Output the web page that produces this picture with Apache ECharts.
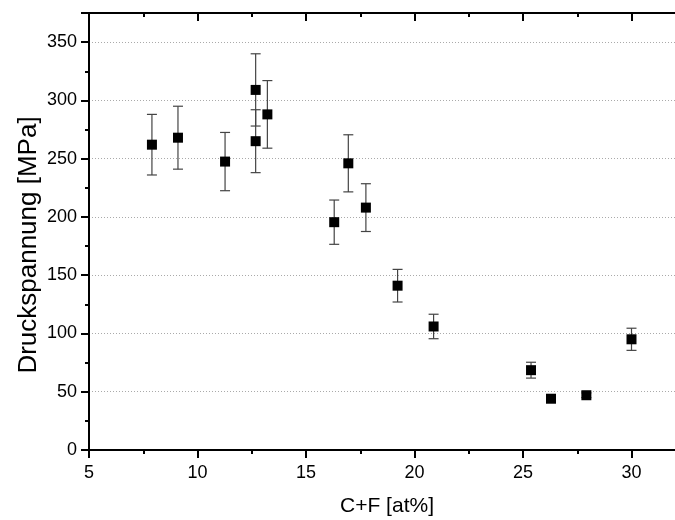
<!DOCTYPE html>
<html><head><meta charset="utf-8">
<script src="https://cdn.jsdelivr.net/npm/echarts@6/dist/echarts.min.js"></script>
<style>html,body{margin:0;padding:0;background:#fff}#c{width:675px;height:520px}</style>
</head><body><div id="c"></div>
<script>
var cf = [7.9, 9.1, 11.27, 12.68, 12.68, 13.22, 16.3, 16.95, 17.76, 19.22, 20.88, 25.37, 26.29, 27.92, 30.0];
var stress = [262, 268, 247.5, 309, 265, 288, 195.5, 246, 208, 141, 106, 68.5, 44, 47, 95];
var err = [26, 27, 25, 31, 27, 29, 19, 24.5, 20.5, 14, 10.5, 6.8, 2, 2, 9.5];
var xTitle = 'C+F [at%]';
var yTitle = 'Druckspannung [MPa]';

var pts = cf.map(function (x, i) { return [x, stress[i]]; });
var bars = cf.map(function (x, i) { return [x, stress[i] - err[i], stress[i] + err[i]]; });
var font = 'Liberation Sans, Arial, sans-serif';
var chart = echarts.init(document.getElementById('c'));
chart.setOption({
  animation: false,
  grid: { left: 89, right: -65, top: 13, bottom: 70, containLabel: false, outerBoundsMode: 'none' },
  graphic: [{
    type: 'text', x: 29, y: 245, rotation: Math.PI / 2,
    style: { text: yTitle, fontFamily: font, fontSize: 26, fill: '#000', textAlign: 'center', textVerticalAlign: 'middle' }
  }, {
    type: 'text', x: 387, y: 506,
    style: { text: xTitle, fontFamily: font, fontSize: 21, fill: '#000', textAlign: 'center', textVerticalAlign: 'middle' }
  }],
  xAxis: [{
    type: 'value', min: 5, max: 35, interval: 5, position: 'bottom',
    axisLine: { show: true, onZero: false, lineStyle: { color: '#000', width: 2 } },
    axisTick: { show: true, inside: false, length: 8, lineStyle: { color: '#000', width: 2 } },
    minorTick: { show: true, splitNumber: 2, length: 4, lineStyle: { color: '#000', width: 2 } },
    axisLabel: { fontFamily: font, fontSize: 18, color: '#000', margin: 14, showMaxLabel: false },
    splitLine: { show: false }
  }, {
    type: 'value', min: 5, max: 35, interval: 5, position: 'top',
    axisLine: { show: true, onZero: false, lineStyle: { color: '#000', width: 2 } },
    axisTick: { show: true, inside: true, length: 8, lineStyle: { color: '#000', width: 2 } },
    minorTick: { show: true, splitNumber: 2, length: 4, lineStyle: { color: '#000', width: 2 } },
    axisLabel: { show: false },
    splitLine: { show: false }
  }],
  yAxis: {
    type: 'value', min: 0, max: 375, interval: 50,
    axisLine: { show: true, onZero: false, lineStyle: { color: '#000', width: 2 } },
    axisTick: { show: true, inside: false, length: 8, lineStyle: { color: '#000', width: 2 } },
    minorTick: { show: true, splitNumber: 2, length: 4, lineStyle: { color: '#000', width: 2 } },
    axisLabel: { fontFamily: font, fontSize: 18, color: '#000', margin: 12, showMaxLabel: false },
    splitLine: { show: true, lineStyle: { color: '#aaa', type: [1, 2], width: 1 } }
  },
  series: [{
    type: 'custom', xAxisIndex: 0, data: bars, z: 2,
    renderItem: function (params, api) {
      var x = api.value(0);
      var lo = api.coord([x, api.value(1)]);
      var hi = api.coord([x, api.value(2)]);
      var w = 5;
      var st = { stroke: '#444', lineWidth: 1.2 };
      return { type: 'group', children: [
        { type: 'line', shape: { x1: lo[0], y1: lo[1], x2: hi[0], y2: hi[1] }, style: st },
        { type: 'line', shape: { x1: lo[0] - w, y1: lo[1], x2: lo[0] + w, y2: lo[1] }, style: st },
        { type: 'line', shape: { x1: hi[0] - w, y1: hi[1], x2: hi[0] + w, y2: hi[1] }, style: st }
      ] };
    }
  }, {
    type: 'scatter', xAxisIndex: 0, data: pts, symbol: 'rect', symbolSize: 10, z: 3,
    itemStyle: { color: '#000', opacity: 1 }
  }]
});
</script></body></html>
